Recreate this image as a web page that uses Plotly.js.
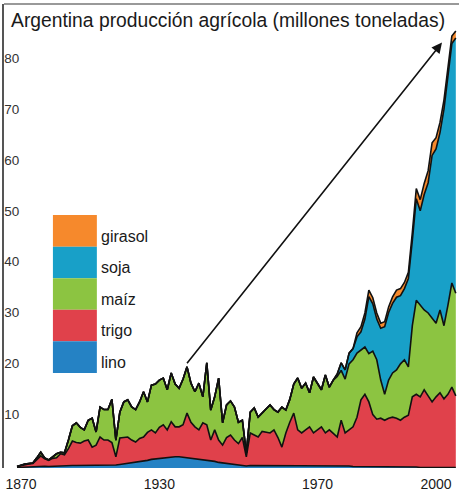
<!DOCTYPE html>
<html><head><meta charset="utf-8">
<script src="https://cdn.plot.ly/plotly-3.0.1.min.js"></script>
<style>html,body{margin:0;padding:0;background:#fff}#c{width:459px;height:501px}</style>
</head><body><div id="c"></div>
<script>
const years = [1894,1895,1896,1897,1898,1899,1900,1901,1902,1903,
1904,1905,1906,1907,1908,1909,1910,1911,1912,1913,
1914,1915,1916,1917,1918,1919,1920,1921,1922,1923,
1924,1925,1926,1927,1928,1929,1930,1931,1932,1933,
1934,1935,1936,1937,1938,1939,1940,1941,1942,1943,
1944,1945,1946,1947,1948,1949,1950,1951,1952,1953,
1954,1955,1956,1957,1958,1959,1960,1961,1962,1963,
1964,1965,1966,1967,1968,1969,1970,1971,1972,1973,
1974,1975,1976,1977,1978,1979,1980,1981,1982,1983,
1984,1985,1986,1987,1988,1989,1990,1991,1992,1993,
1994,1995,1996,1997,1998,1999,2000,2001,2002,2003,2004,2005];

const lino = [0.1,0.15,0.2,0.2,0.25,0.3,0.3,0.35,0.3,0.35,
0.4,0.4,0.4,0.45,0.5,0.5,0.5,0.5,0.55,0.55,
0.5,0.55,0.6,0.5,0.6,0.6,0.7,0.8,0.9,1.0,
1.1,1.2,1.4,1.5,1.7,1.8,1.9,2.0,2.1,2.2,
2.2,2.2,2.1,2.1,2.0,1.9,1.8,1.7,1.6,1.4,
1.3,1.1,1.0,0.9,0.8,0.7,0.6,0.6,0.4,0.5,
0.5,0.5,0.5,0.5,0.5,0.5,0.5,0.5,0.5,0.5,
0.5,0.5,0.5,0.5,0.5,0.5,0.5,0.4,0.4,0.4,
0.4,0.4,0.4,0.4,0.4,0.3,0.3,0.3,0.3,0.3,
0.3,0.3,0.2,0.2,0.2,0.2,0.2,0.2,0.2,0.2,
0.2,0.2,0.1,0.1,0.1,0.1,0.1,0.1,0.1,0.1,0.1,0.1];

const trigo = [0.2,0.35,0.5,0.6,0.65,1.4,2.1,1.45,1.2,1.55,
1.6,2.4,2.2,3.35,4.8,4.5,4.4,4.8,4.95,3.55,
4.0,5.55,4.9,5.0,4.4,1.6,5.2,5.2,5.2,4.5,
4.0,4.6,4.7,5.5,5.8,5.1,6.1,6.5,5.4,6.9,
5.9,5.9,6.4,8.7,7.0,6.2,5.7,7.2,6.9,4.1,
6.2,4.4,3.5,5.1,5.7,4.8,4.2,5.4,1.8,6.4,
6.0,5.6,6.7,6.5,6.4,7.0,5.5,3.6,6.4,8.5,
10.3,7.0,6.4,7.0,7.6,6.4,7.0,7.7,6.5,7.1,
6.4,5.7,9.0,6.5,7.1,7.8,9.7,13.1,14.2,12.7,
10.2,9.3,9.6,9.2,9.6,9.8,9.6,9.2,9.8,10.2,
13.8,14.3,13.9,15.3,14.1,12.9,13.9,14.7,13.5,14.4,15.8,14.1];

const maiz = [0,0.1,0.1,0.1,0.1,0.3,0.7,0.2,0.1,0.3,
0.8,0.3,0.4,1.7,3.0,3.9,3.1,2.2,3.9,5.7,
2.6,5.9,6.0,6.0,8.5,3.3,5.1,7.0,7.3,6.5,
6.4,7.2,8.9,6.0,8.8,9.6,9.3,9.2,7.9,9.6,
8.4,7.6,9.0,9.1,7.7,6.9,9.2,5.1,12.2,5.9,
6.5,12.2,4.4,6.4,6.7,6.5,4.2,3.4,0.8,4.1,
5.3,3.9,3.6,4.8,5.5,4.0,5.0,7.9,4.5,4.5,
5.7,10.2,8.8,9.2,6.7,11.0,9.0,7.3,11.4,8.4,
10.5,11.9,9.8,10.6,13.0,13.2,12.6,9.8,9.3,9.5,
12.5,11.7,7.5,5.1,7.5,8.7,9.5,11.1,11.3,9.5,
14.0,18.5,18.0,15.7,16.3,16.5,14.5,16.3,14.4,17.5,20.5,20.2];

const sojaYears = [1975,1976,1977,1978,1979,1980,1981,1982,1983,1984,1985,1986,1987,1988,1989,1990,
1991,1992,1993,1994,1995,1996,1997,1998,1999,2000,2001,2002,2003,2004,2005];
const soja = [0.5,1.5,1.8,2.1,2.2,3.2,3.6,5.5,11.2,9.3,8.0,10.2,13.3,13.3,13.7,14.3,
13.4,14.0,17.4,16.8,20.0,18.6,22.7,25.6,32.0,34.3,34.9,42.6,45.4,47.1,50.2];

const girasolYears = [1980,1981,1982,1983,1984,1985,1986,1987,1988,1989,1990,1991,1992,
1993,1994,1995,1996,1997,1998,1999,2000,2001,2002,2003,2004,2005];
const girasol = [0.8,1.0,1.2,1.3,1.2,1.2,1.0,1.0,1.1,1.3,1.4,1.4,1.2,
1.2,1.5,2.0,2.2,2.2,2.4,2.5,2.2,2.0,1.8,1.6,1.5,1.4];

const seriesNames = ['lino','trigo','maíz','soja','girasol'];
const seriesColors = ['#2582c4','#e0414b','#8cc441','#18a0c8','#f6892c'];
const yTicks = [10,20,30,40,50,60,70,80];
const xTickVals = [1895,1930,1970,2000];
const xTickText = ['1870','1930','1970','2000'];
const titleText = 'Argentina producción agrícola (millones toneladas)';

const xs = [years, years, years, sojaYears, girasolYears];
const ys = [lino, trigo, maiz, soja, girasol];
const traces = ys.map((v,i)=>({
  type:'scatter', mode:'lines', x:xs[i], y:v, stackgroup:'a', name:seriesNames[i],
  fillcolor:seriesColors[i], line:{color:'#111', width:1.6, shape:'linear'},
  hoverinfo:'skip', showlegend:false
}));

// legend block (drawn as stacked colour box)
const shapes = [];
const annotations = [];
const lgX0 = 0.108, lgX1 = 0.205, lgTop = 0.545, lgStep = 0.068;
for (let k=0;k<5;k++){
  const idx = 4-k; // girasol at top
  const y1 = lgTop - k*lgStep, y0 = y1 - lgStep;
  shapes.push({type:'rect', xref:'paper', yref:'paper', x0:lgX0, x1:lgX1, y0:y0, y1:y1,
    fillcolor:seriesColors[idx], line:{width:0}, layer:'above'});
  annotations.push({xref:'paper', yref:'paper', x:lgX1+0.004, y:y0+lgStep*0.33, xanchor:'left', yanchor:'middle',
    text:seriesNames[idx], showarrow:false, font:{family:'Liberation Sans, Arial, sans-serif', size:16, color:'#1a1a1a'}});
}
shapes.push({type:'line', xref:'paper', yref:'paper', x0:0, x1:1.01, y0:1, y1:1, line:{color:'#777', width:1.5}});

annotations.push({x:2001.5, y:83.7, ax:1936.7, ay:20.3, axref:'x', ayref:'y', xref:'x', yref:'y',
  showarrow:true, arrowhead:2, arrowsize:1.3, arrowwidth:1.6, arrowcolor:'#111', text:''});

const layout = {
  width:459, height:501,
  margin:{l:4, r:2, t:4, b:33},
  paper_bgcolor:'#fff', plot_bgcolor:'#fff',
  title:{text:titleText, xref:'container', yref:'container', x:0.024, xanchor:'left', y:0.96, yanchor:'middle',
    font:{family:'Liberation Sans, Arial, sans-serif', size:19.3, color:'#1a1a1a'}},
  xaxis:{range:[1890.7,2005.3], tickvals:xTickVals, ticktext:xTickText, showgrid:false, zeroline:false,
    showline:false, ticks:'', ticklabelstandoff:6, tickfont:{family:'Liberation Sans, Arial, sans-serif', size:14, color:'#1a1a1a'}},
  yaxis:{range:[0,91.3], tickvals:yTicks, showgrid:false, zeroline:false, showline:true, linecolor:'#555', linewidth:2,
    ticks:'', ticklabelposition:'inside', ticklabelshift:-3,
    tickfont:{family:'Liberation Sans, Arial, sans-serif', size:13.5, color:'#333'}},
  shapes:shapes, annotations:annotations
};
Plotly.newPlot('c', traces, layout, {staticPlot:true, displayModeBar:false});
</script></body></html>
